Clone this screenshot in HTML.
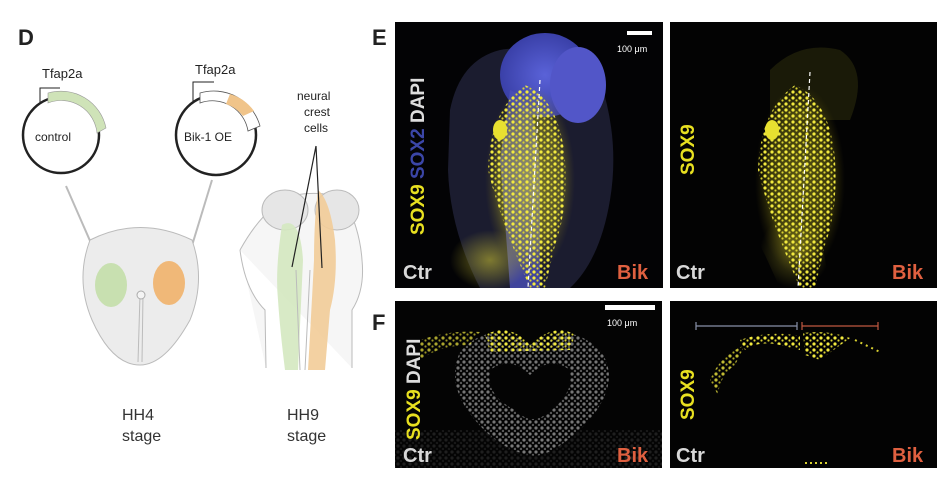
<!DOCTYPE html>
<html><head><meta charset="utf-8"><style>
body{margin:0;width:941px;height:490px;background:#fff;overflow:hidden;font-family:"Liberation Sans",sans-serif}
</style></head><body>
<svg width="941" height="490" viewBox="0 0 941 490" xmlns="http://www.w3.org/2000/svg" font-family="Liberation Sans, sans-serif">
<defs>
<radialGradient id="blue" cx="50%" cy="50%" r="50%"><stop offset="0" stop-color="#5a62d8"/><stop offset="1" stop-color="#3a40a8"/></radialGradient>
<radialGradient id="yel" cx="50%" cy="50%" r="50%"><stop offset="0" stop-color="#e8e030" stop-opacity="0.95"/><stop offset="0.7" stop-color="#c8c020" stop-opacity="0.7"/><stop offset="1" stop-color="#807010" stop-opacity="0"/></radialGradient>
<radialGradient id="glow" cx="50%" cy="50%" r="50%"><stop offset="0" stop-color="#c0b830" stop-opacity="0.6"/><stop offset="1" stop-color="#c0b830" stop-opacity="0"/></radialGradient>
<pattern id="dots" width="7" height="6" patternUnits="userSpaceOnUse"><rect width="7" height="6" fill="none"/><circle cx="2" cy="2" r="1.6" fill="#f2ea40"/><circle cx="5.5" cy="4.5" r="1.1" fill="#d8d030"/></pattern>
<pattern id="gdots" width="6" height="6" patternUnits="userSpaceOnUse"><circle cx="2" cy="2" r="1.6" fill="#8a8a8a"/><circle cx="5" cy="5" r="1.2" fill="#666"/></pattern>
</defs>

<!-- Panel D -->
<text x="18" y="45" font-size="22" font-weight="bold" fill="#222">D</text>
<text x="42" y="78" font-size="13" fill="#222">Tfap2a</text>
<path d="M40 103 V88 H60" stroke="#222" stroke-width="1" fill="none"/>
<circle cx="61" cy="135" r="38" fill="none" stroke="#222" stroke-width="2.5"/>
<path d="M48 93 A46 46 0 0 1 106 128 L97 133 A36 36 0 0 0 48 103 Z" fill="#cfe3b8" stroke="#999" stroke-width="0.6"/>
<text x="35" y="141" font-size="12" fill="#222">control</text>
<text x="195" y="74" font-size="13" fill="#222">Tfap2a</text>
<path d="M193 102 V82 H214" stroke="#222" stroke-width="1" fill="none"/>
<circle cx="216" cy="135" r="40" fill="none" stroke="#222" stroke-width="2.5"/>
<path d="M200 93 A48 48 0 0 1 260 126 L248 131 A36 36 0 0 0 200 103 Z" fill="#fff" stroke="#555" stroke-width="0.8"/>
<path d="M230 94 A46 46 0 0 1 254 111 L243 116 A36 36 0 0 0 226 104 Z" fill="#f0c48a"/>
<text x="184" y="141" font-size="12" fill="#222">Bik-1 OE</text>
<!-- needles -->
<path d="M66 186 L105 275" stroke="#bbb" stroke-width="2"/>
<path d="M212 180 L183 275" stroke="#bbb" stroke-width="2"/>
<!-- HH4 embryo -->
<path d="M90 240 Q140 215 192 240 Q206 280 190 320 Q165 365 140 365 Q112 365 92 320 Q75 280 90 240Z" fill="#ececec" stroke="#bbb"/>
<ellipse cx="111" cy="285" rx="16" ry="22" fill="#c8e0b0"/>
<ellipse cx="169" cy="283" rx="16" ry="22" fill="#f0b878"/>
<path d="M140 295 L138 362 M143 295 L142 362" stroke="#bbb"/>
<circle cx="141" cy="295" r="4" fill="#f4f4f4" stroke="#aaa"/>
<text x="122" y="420" font-size="16" fill="#333">HH4</text>
<text x="122" y="441" font-size="16" fill="#333">stage</text>
<!-- HH9 embryo -->
<path d="M240 250 Q265 205 295 195 Q325 190 345 200 Q360 230 362 260 Q365 290 352 310 L352 368 M240 250 Q245 290 265 310 L266 368" fill="#f6f6f6" stroke="#bbb"/>
<ellipse cx="285" cy="210" rx="23" ry="20" fill="#e6e6e6" stroke="#bbb"/>
<ellipse cx="337" cy="210" rx="22" ry="20" fill="#e6e6e6" stroke="#bbb"/>
<path d="M282 225 Q300 215 303 260 L298 370 L285 370 Q280 330 278 300 Q275 270 282 225Z" fill="#d4e8c0" opacity="0.9"/>
<path d="M318 190 Q330 200 335 240 Q338 280 330 310 L325 370 L308 370 Q312 300 314 260 Q314 220 318 190Z" fill="#f2cc98" opacity="0.9"/>
<path d="M296 270 L300 370 M310 270 L305 370" stroke="#bbb"/>
<text x="297" y="100" font-size="12" fill="#222">neural</text>
<text x="304" y="116" font-size="12" fill="#222">crest</text>
<text x="304" y="132" font-size="12" fill="#222">cells</text>
<path d="M316 146 L292 267 M316 146 L322 268" stroke="#222" stroke-width="1.2"/>
<text x="287" y="420" font-size="16" fill="#333">HH9</text>
<text x="287" y="441" font-size="16" fill="#333">stage</text>

<text x="372" y="45" font-size="22" font-weight="bold" fill="#222">E</text>
<text x="372" y="330" font-size="22" font-weight="bold" fill="#222">F</text>

<!-- E left -->
<rect x="395" y="22" width="268" height="266" fill="#030305"/>
<path d="M450 110 Q460 60 500 50 Q560 40 600 80 Q620 140 610 200 Q600 260 570 288 L480 288 Q450 230 448 170 Z" fill="#22233a" opacity="0.8"/>
<ellipse cx="545" cy="75" rx="45" ry="42" fill="url(#blue)"/>
<ellipse cx="578" cy="85" rx="28" ry="38" fill="#5256c8"/>
<path d="M510 90 Q540 100 540 180 Q540 250 540 288 L510 288 Q505 220 500 160Z" fill="#4a4fb8" opacity="0.8"/>
<ellipse cx="530" cy="180" rx="45" ry="95" fill="url(#yel)" opacity="0.5"/>
<path d="M525 85 Q560 100 565 160 Q568 210 555 245 L545 288 L530 288 Q500 220 488 170 Q490 110 525 85Z" fill="url(#dots)"/>
<ellipse cx="500" cy="130" rx="7" ry="10" fill="#e8e030"/>
<ellipse cx="490" cy="260" rx="40" ry="30" fill="url(#glow)"/>
<path d="M540 80 L528 288" stroke="#fff" stroke-width="1.2" stroke-dasharray="4 3"/>
<rect x="627" y="31" width="25" height="4" fill="#fff"/>
<text x="617" y="52" font-size="9" fill="#fff">100 μm</text>
<text transform="translate(424,235) rotate(-90)" font-size="19" font-weight="bold" fill="#e8e020">SOX9 <tspan fill="#3b46a8">SOX2</tspan> <tspan fill="#ddd">DAPI</tspan></text>
<text x="403" y="279" font-size="20" font-weight="bold" fill="#d8d8d8">Ctr</text>
<text x="617" y="279" font-size="20" font-weight="bold" fill="#e06040">Bik</text>

<!-- E right -->
<rect x="670" y="22" width="267" height="266" fill="#030303"/>
<path d="M770 70 Q800 40 840 50 Q870 70 850 120 L770 120Z" fill="#1a1a08"/>
<path d="M765 255 Q750 230 780 215 L820 230 L830 288 L780 288Z" fill="url(#glow)" opacity="0.7"/>
<ellipse cx="800" cy="180" rx="45" ry="95" fill="url(#yel)" opacity="0.4"/>
<path d="M795 85 Q830 100 835 160 Q838 210 825 245 L815 288 L800 288 Q770 220 758 170 Q760 110 795 85Z" fill="url(#dots)"/>
<ellipse cx="772" cy="130" rx="7" ry="10" fill="#e8e030"/>
<path d="M810 72 L798 288" stroke="#fff" stroke-width="1.2" stroke-dasharray="4 3"/>
<text transform="translate(694,175) rotate(-90)" font-size="19" font-weight="bold" fill="#e8e020">SOX9</text>
<text x="676" y="279" font-size="20" font-weight="bold" fill="#d8d8d8">Ctr</text>
<text x="892" y="279" font-size="20" font-weight="bold" fill="#e06040">Bik</text>

<!-- F left -->
<rect x="395" y="301" width="267" height="167" fill="#040404"/>
<path d="M460 352 Q490 318 530 345 Q565 318 600 350 Q625 385 580 430 Q545 460 530 455 Q500 450 475 420 Q445 385 460 352Z" fill="url(#gdots)" opacity="0.85"/>
<path d="M490 370 Q510 355 530 375 Q550 355 570 370 Q575 395 545 415 Q530 425 515 410 Q485 395 490 370Z" fill="#040404"/>
<rect x="395" y="430" width="267" height="38" fill="url(#gdots)" opacity="0.2"/>
<path d="M485 335 Q510 322 530 345 Q555 322 575 335 L570 350 L490 352Z" fill="url(#dots)"/>
<path d="M420 340 Q450 330 480 332 L470 345 Q440 345 420 360Z" fill="url(#dots)" opacity="0.7"/>
<rect x="605" y="305" width="50" height="5" fill="#fff"/>
<text x="607" y="326" font-size="9" fill="#fff">100 μm</text>
<text transform="translate(420,440) rotate(-90)" font-size="19" font-weight="bold" fill="#e8e020">SOX9 <tspan fill="#ddd">DAPI</tspan></text>
<text x="403" y="462" font-size="20" font-weight="bold" fill="#d8d8d8">Ctr</text>
<text x="617" y="462" font-size="20" font-weight="bold" fill="#e06040">Bik</text>

<!-- F right -->
<rect x="670" y="301" width="267" height="167" fill="#030303"/>
<path d="M696 326 H797 M696 322 V330 M797 322 V330" stroke="#8890a8" stroke-width="1.2"/>
<path d="M802 326 H878 M802 322 V330 M878 322 V330" stroke="#c05840" stroke-width="1.2"/>
<path d="M740 340 Q770 330 800 336 L800 350 L780 345 Q760 340 745 350Z" fill="url(#dots)"/>
<path d="M803 333 Q830 330 850 338 L820 360 L805 355Z" fill="url(#dots)"/>
<path d="M710 380 Q720 355 745 345 L735 365 Q720 375 718 395Z" fill="url(#dots)" opacity="0.8"/>
<path d="M855 340 L880 352" stroke="#d8d030" stroke-width="2" stroke-dasharray="2 4"/>
<path d="M805 463 L830 463" stroke="#d8d030" stroke-width="2" stroke-dasharray="2 3"/>
<text transform="translate(694,420) rotate(-90)" font-size="19" font-weight="bold" fill="#e8e020">SOX9</text>
<text x="676" y="462" font-size="20" font-weight="bold" fill="#d8d8d8">Ctr</text>
<text x="892" y="462" font-size="20" font-weight="bold" fill="#e06040">Bik</text>
</svg>
</body></html>
